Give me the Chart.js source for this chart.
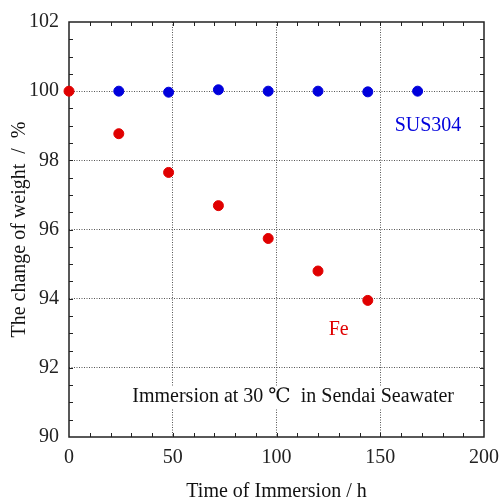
<!DOCTYPE html>
<html lang="en">
<head>
  <meta charset="UTF-8">
  <title>The change of weight</title>
  <script src="https://cdn.jsdelivr.net/npm/chart.js"></script>
  <style>
    body {
      margin: 0;
      background: #fff;
    }
    .wrap {
      position: relative;
      width: 500px;
      height: 502px;
    }
  </style>
</head>
<body>
  <div class="wrap">
    <canvas id="weightChart" width="500" height="502"></canvas>
  </div>
  <script>
    // data
    const hoursFe = [0, 24, 48, 72, 96, 120, 144];
    const weightFe = [100, 98.77, 97.65, 96.69, 95.74, 94.8, 93.95];
    const hoursSus = [24, 48, 72, 96, 120, 144, 168];
    const weightSus = [100.0, 99.97, 100.04, 100.0, 100.0, 99.98, 100.0];
    const xTicks = [0, 50, 100, 150, 200];
    const yTicks = [90, 92, 94, 96, 98, 100, 102];

    const serif = "'Liberation Serif', 'DejaVu Serif', serif";
    const red = '#e00000';
    const blue = '#0000dc';

    // frame + inward minor ticks
    const framePlugin = {
      id: 'frame',
      beforeDatasetsDraw(chart) {
        const { ctx, chartArea: a, scales: { x, y } } = chart;
        ctx.save();
        ctx.setLineDash([]);
        ctx.strokeStyle = '#222';
        ctx.lineWidth = 1;
        ctx.beginPath();
        for (let v = 10; v < 200; v += 10) {
          const px = Math.round(x.getPixelForValue(v)) + 0.5;
          ctx.moveTo(px, a.bottom); ctx.lineTo(px, a.bottom - 4);
          ctx.moveTo(px, a.top); ctx.lineTo(px, a.top + 4);
        }
        for (let v = 90.5; v < 102; v += 0.5) {
          const py = Math.round(y.getPixelForValue(v)) + 0.5;
          ctx.moveTo(a.left, py); ctx.lineTo(a.left + 4, py);
          ctx.moveTo(a.right, py); ctx.lineTo(a.right - 4, py);
        }
        ctx.stroke();
        ctx.lineWidth = 1.5;
        ctx.strokeRect(a.left, a.top, a.right - a.left, a.bottom - a.top);
        ctx.restore();
      }
    };

    // labels inside the plot
    const labelPlugin = {
      id: 'labels',
      afterDatasetsDraw(chart) {
        const { ctx, scales: { x, y } } = chart;
        ctx.save();
        ctx.font = '20px ' + serif;
        ctx.textBaseline = 'middle';

        ctx.textAlign = 'center';
        ctx.fillStyle = blue;
        ctx.fillText('SUS304', x.getPixelForValue(173), y.getPixelForValue(99.0));
        ctx.fillStyle = red;
        ctx.fillText('Fe', x.getPixelForValue(130), y.getPixelForValue(93.1));

        const note = 'Immersion at 30 \u2103  in Sendai Seawater';
        const nx = x.getPixelForValue(30.5);
        const ny = y.getPixelForValue(91.15);
        const w = ctx.measureText(note).width;
        ctx.fillStyle = '#fff';
        ctx.fillRect(nx - 2, ny - 11, w + 4, 22);
        ctx.textAlign = 'left';
        ctx.fillStyle = '#111';
        ctx.fillText(note, nx, ny);
        ctx.restore();
      }
    };

    const gridColor = (edge) => (c) => {
      const v = c.tick && c.tick.value;
      return edge.includes(v) ? 'rgba(0,0,0,0)' : '#555';
    };

    new Chart(document.getElementById('weightChart'), {
      type: 'scatter',
      data: {
        datasets: [
          {
            label: 'SUS304',
            data: hoursSus.map((h, i) => ({ x: h, y: weightSus[i] })),
            backgroundColor: blue,
            borderColor: blue,
            pointRadius: 5,
            clip: false
          },
          {
            label: 'Fe',
            data: hoursFe.map((h, i) => ({ x: h, y: weightFe[i] })),
            backgroundColor: red,
            borderColor: red,
            pointRadius: 5,
            clip: false
          }
        ]
      },
      options: {
        responsive: false,
        animation: false,
        layout: { padding: { left: 0, right: 16, top: 22, bottom: 0 } },
        plugins: {
          legend: { display: false },
          tooltip: { enabled: false }
        },
        scales: {
          x: {
            type: 'linear',
            min: 0,
            max: 200,
            afterBuildTicks: (s) => { s.ticks = xTicks.map(v => ({ value: v })); },
            afterFit: (s) => { s.height = 65; s.paddingLeft = 0; s.paddingRight = 0; },
            grid: { color: gridColor([0, 200]), lineWidth: 1, drawTicks: false },
            border: { display: false, dash: [1, 1.5] },
            ticks: { color: '#222', padding: 9, font: { family: serif, size: 20 } },
            title: {
              display: true,
              text: 'Time of Immersion / h',
              color: '#111',
              padding: { top: 6, bottom: 0 },
              font: { family: serif, size: 20, lineHeight: 1 }
            }
          },
          y: {
            min: 90,
            max: 102,
            afterBuildTicks: (s) => { s.ticks = yTicks.map(v => ({ value: v })); },
            afterFit: (s) => { s.width = 69; s.paddingTop = 0; s.paddingBottom = 0; },
            grid: { color: gridColor([90, 102]), lineWidth: 1, drawTicks: false },
            border: { display: false, dash: [1, 1.5] },
            ticks: { color: '#222', padding: 10, font: { family: serif, size: 20 } },
            title: {
              display: true,
              text: 'The change of weight  /  %',
              color: '#111',
              padding: { top: 10, bottom: 4 },
              font: { family: serif, size: 20, lineHeight: 1 }
            }
          }
        }
      },
      plugins: [framePlugin, labelPlugin]
    });
  </script>
</body>
</html>
